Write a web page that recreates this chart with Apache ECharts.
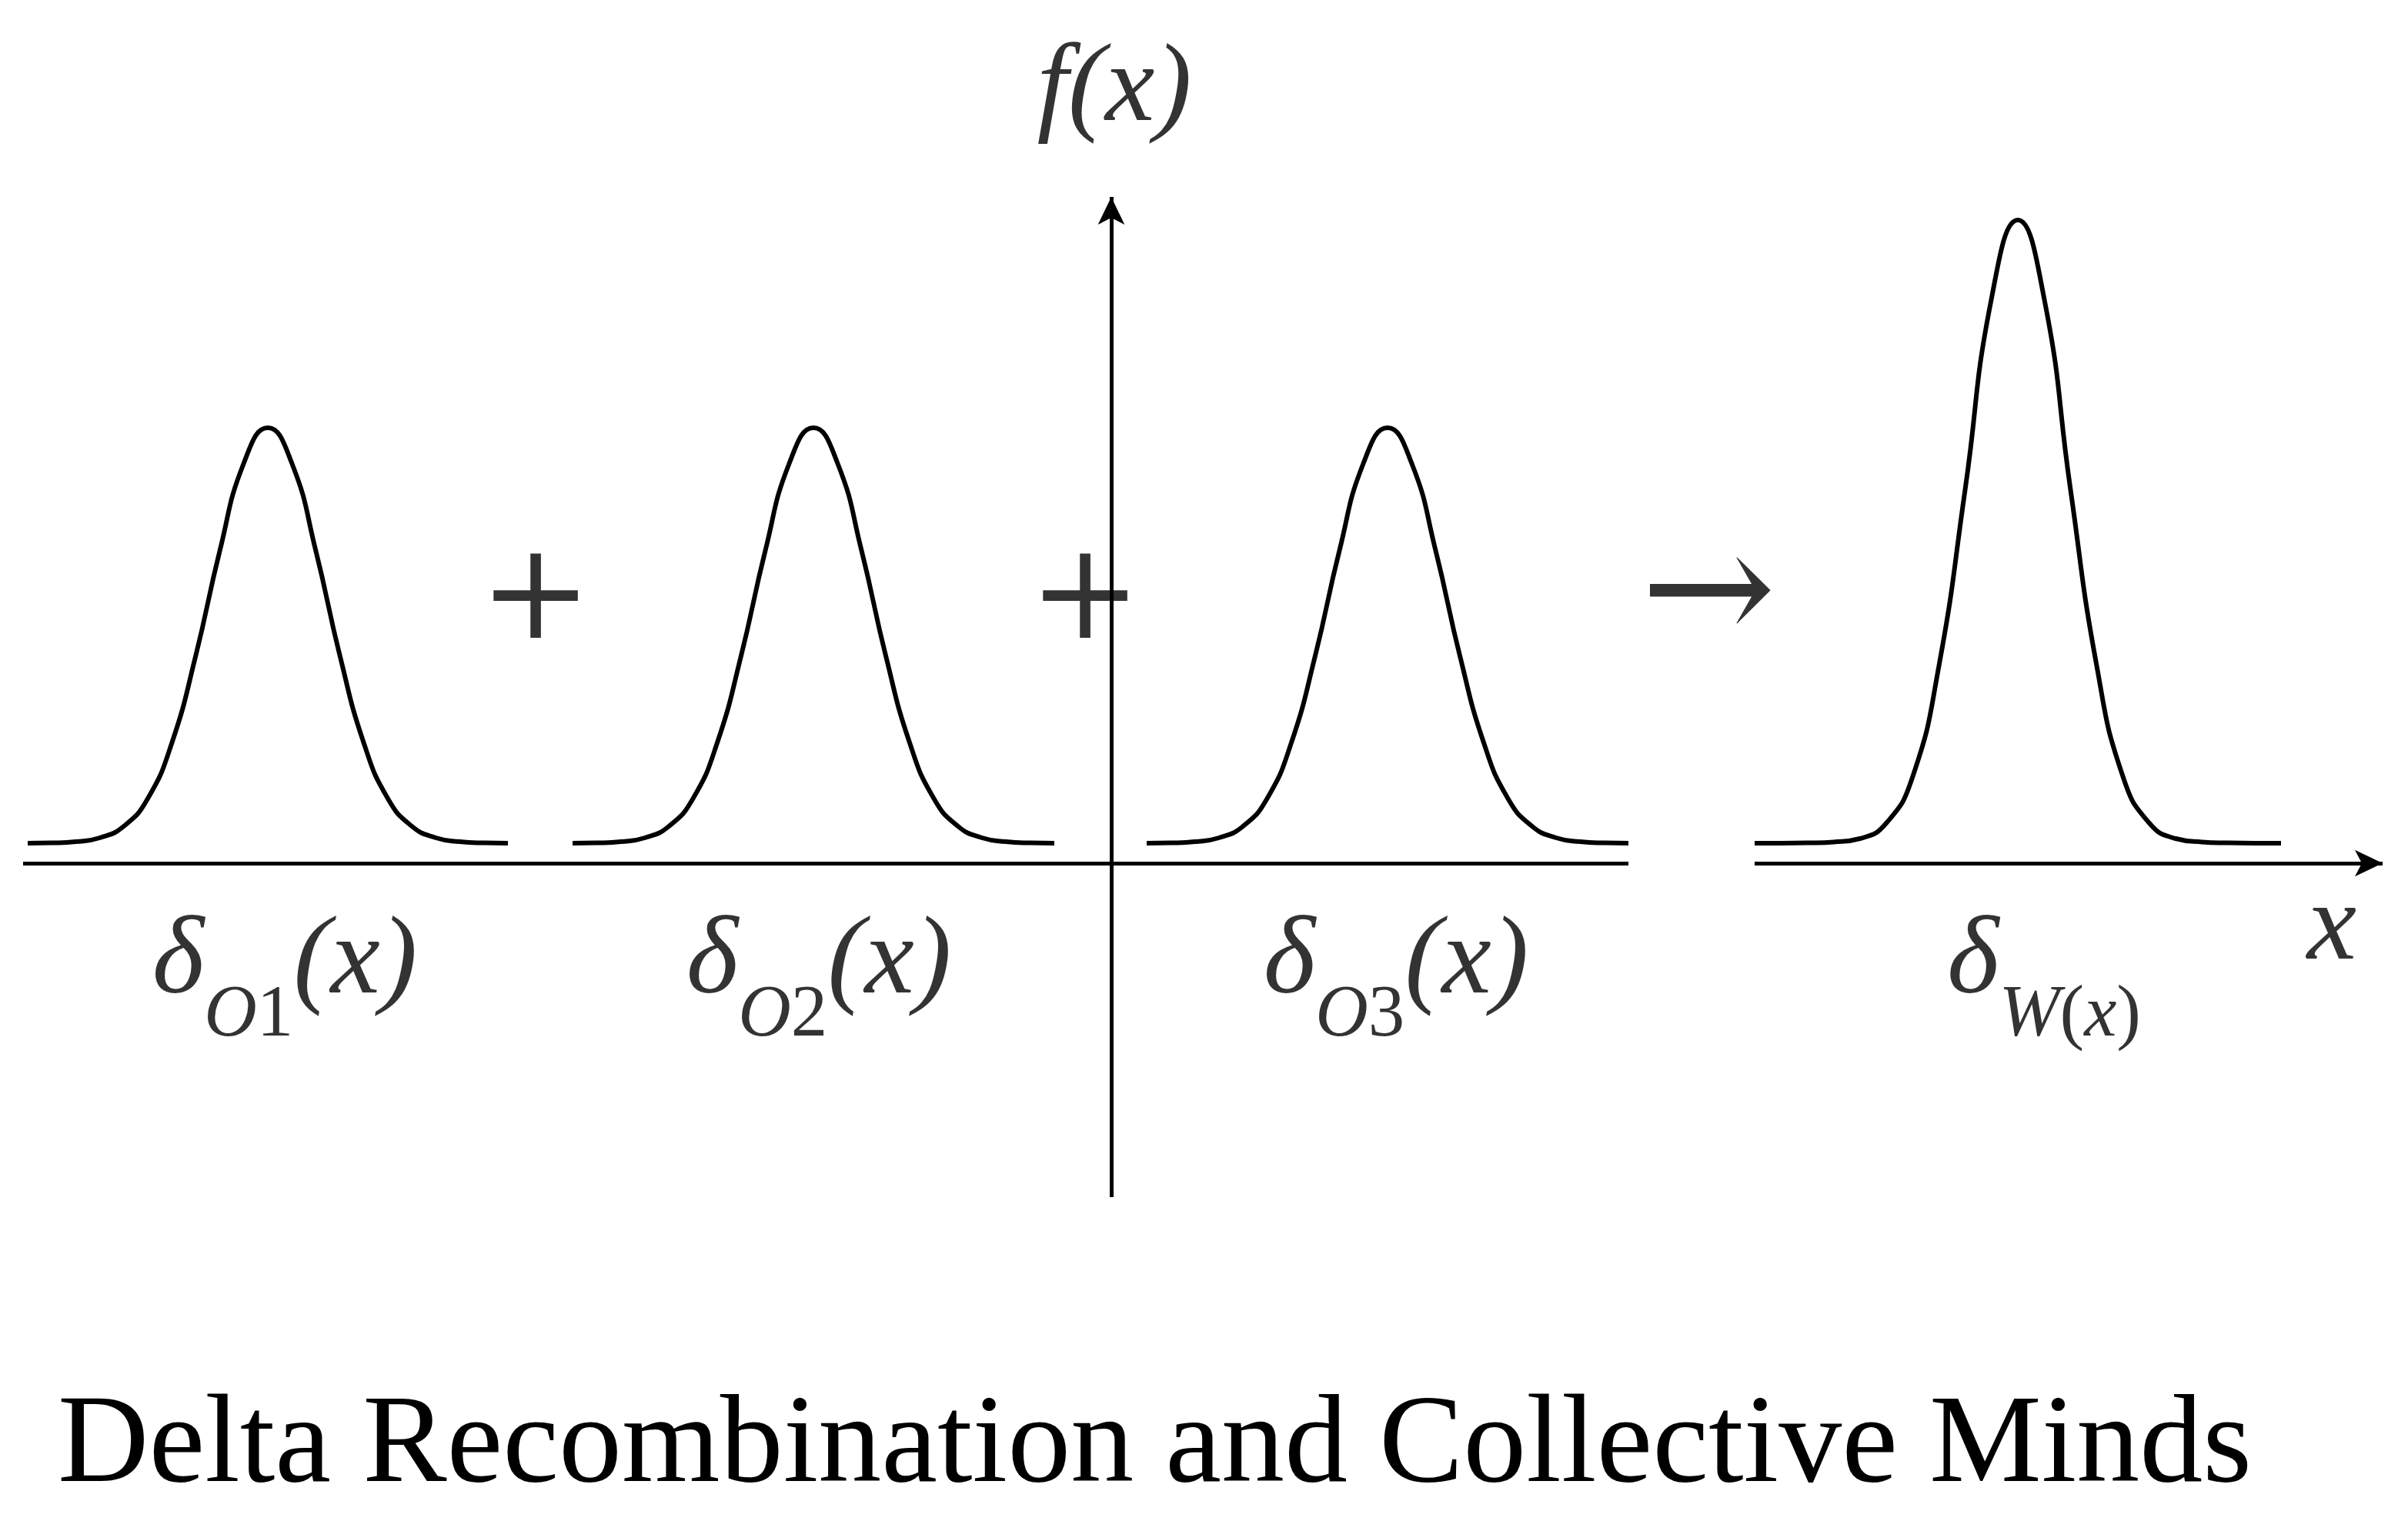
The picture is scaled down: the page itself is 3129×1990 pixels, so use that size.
<!DOCTYPE html>
<html><head><meta charset="utf-8">
<script src="https://cdn.jsdelivr.net/npm/echarts@6/dist/echarts.min.js"></script>
<style>html,body{margin:0;padding:0;background:#fff}#c{width:3129px;height:1990px}</style>
</head><body><div id="c"></div>
<script>
// Curve profiles (height above the x axis, in reference half-scale pixel units), 21 samples each
const curve1 = [13,13.2,14,16.5,24,42,78,135,203,260,283,260,203,135,78,42,24,16.5,14,13.2,13];
const curve2 = [13,13.2,14,16.5,24,42,78,135,203,260,283,260,203,135,78,42,24,16.5,14,13.2,13];
const curve3 = [13,13.2,14,16.5,24,42,78,135,203,260,283,260,203,135,78,42,24,16.5,14,13.2,13];
const curveW = [13,13,13.2,13.8,16,26,56,128,243,367,418,367,243,128,56,26,16,13.8,13.2,13,13];
const curveStarts = [18, 372, 745, 1140];
const curveEnds = [330, 685, 1058, 1482];

const ser = [];
[curve1, curve2, curve3, curveW].forEach((c, k) => {
  const step = (curveEnds[k] - curveStarts[k]) / (c.length - 1);
  ser.push({type:'line', smooth:true, symbol:'none', silent:true,
    lineStyle:{color:'#000', width:6},
    data: c.map((v, i) => [curveStarts[k] + i * step, v])});
});
// axes
ser.push({type:'line', symbol:'none', data:[], markLine:{silent:true, symbol:['none','none'],
  lineStyle:{color:'#000', width:5, type:'solid'}, label:{show:false},
  data:[[{coord:[15,0]},{coord:[1058,0]}]]}});
ser.push({type:'line', symbol:'none', data:[], markLine:{silent:true, symbol:['none','arrow'], symbolSize:[26,36],
  lineStyle:{color:'#000', width:5, type:'solid'}, label:{show:false},
  data:[[{coord:[1140,0]},{coord:[1548,0]}],[{coord:[722,-217]},{coord:[722,433]}]]}});

const F = 'Liberation Serif';
const rich = {
  d:{fontFamily:F, fontStyle:'italic', fontSize:145, color:'#000', verticalAlign:'top', lineHeight:150},
  s:{fontFamily:F, fontStyle:'italic', fontSize:95, color:'#000', verticalAlign:'bottom', lineHeight:190},
  n:{fontFamily:F, fontSize:95, color:'#000', verticalAlign:'bottom', lineHeight:190},
  p:{fontFamily:F, fontStyle:'italic', fontSize:145, color:'#000', verticalAlign:'top', lineHeight:150}
};
const texts = [
  {x:185, y:-76, t:'{d|δ}{s|O}{n|1}{p|(x)}'},
  {x:532, y:-76, t:'{d|δ}{s|O}{n|2}{p|(x)}'},
  {x:907, y:-76, t:'{d|δ}{s|O}{n|3}{p|(x)}'},
  {x:1328, y:-76, t:'{d|δ}{s|W}{n|(}{s|x}{n|)}'},
  {x:1515, y:-44, t:'{p|x}'},
  {x:724, y:501, t:'{p|f(x)}'}
];
ser.push({type:'scatter', symbolSize:0, silent:true,
  data: texts.map(o => ({value:[o.x, o.y], label:{show:true, position:'inside', color:'#000', formatter:o.t, rich:rich}}))});
ser.push({type:'scatter', symbolSize:0, silent:true,
  data: [[348,169,'+'],[705,169,'+'],[1110,171,'→']].map(o => ({value:[o[0],o[1]],
    label:{show:true, position:'inside', formatter:o[2], fontFamily:'DejaVu Serif', fontWeight:'lighter', fontSize:o[2]==='+'?175:210, color:'#000'}}))});

const chart = echarts.init(document.getElementById('c'));
chart.setOption({
  animation:false, backgroundColor:'#fff',
  title:{text:'Delta Recombination and Collective Minds', left:70, top:1795,
    textStyle:{fontFamily:F, fontWeight:'normal', fontSize:164, color:'#000'}},
  grid:{left:0, right:0, top:0, bottom:0},
  xAxis:{type:'value', min:0, max:1564.5, show:false},
  yAxis:{type:'value', min:-434, max:561, show:false},
  series: ser
});
</script></body></html>
